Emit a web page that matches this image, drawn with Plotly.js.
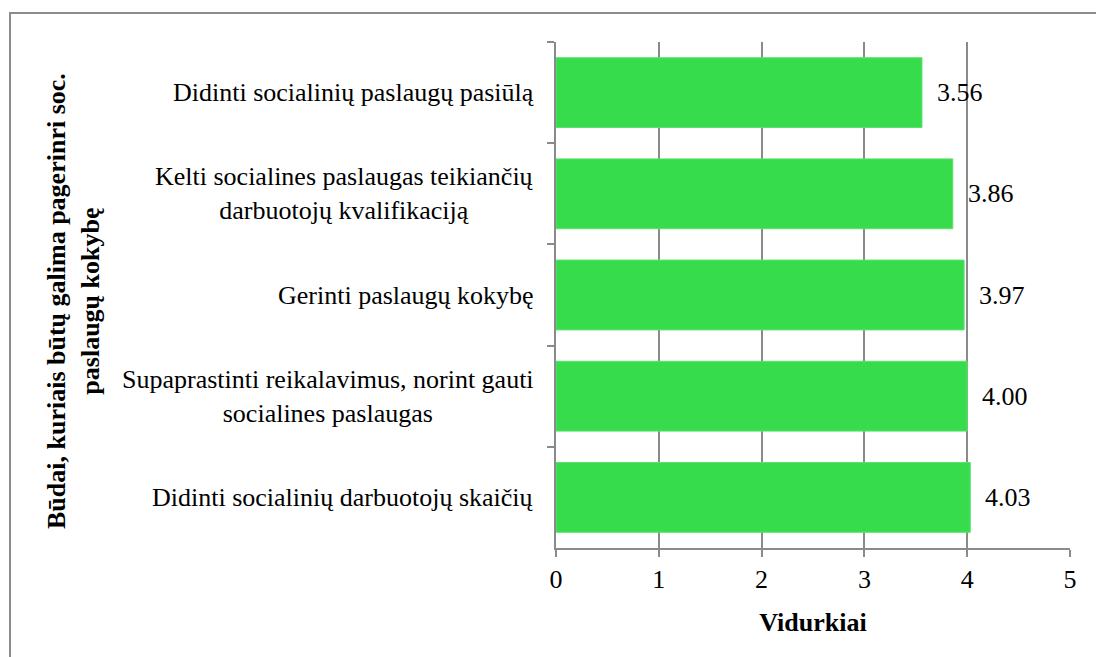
<!DOCTYPE html>
<html>
<head>
<meta charset="utf-8">
<script src="https://cdn.plot.ly/plotly-3.0.1.min.js"></script>
<style>
  html, body { margin: 0; padding: 0; background: #fff; }
  #frame { position: absolute; left: 9px; top: 12px; width: 1087px; height: 645px;
           border-left: 2px solid #8c8c8c; border-top: 2px solid #8c8c8c; box-sizing: border-box; pointer-events: none; }
</style>
</head>
<body>
<div id="chart"></div>
<div id="frame"></div>
<script>
// Data (top to bottom as shown)
const categories = [
  "Didinti socialinių paslaugų pasiūlą",
  "Kelti socialines paslaugas teikiančių<br>darbuotojų kvalifikaciją",
  "Gerinti paslaugų kokybę",
  "Supaprastinti reikalavimus, norint gauti<br>socialines paslaugas",
  "Didinti socialinių darbuotojų skaičių"
];
const values = [3.56, 3.86, 3.97, 4.00, 4.03];
const valueLabels = ["3.56", "3.86", "3.97", "4.00", "4.03"];
const xTickVals = [0, 1, 2, 3, 4, 5];
const xTitle = "Vidurkiai";
const yTitle = "Būdai, kuriais būtų galima pagerinri soc.<br>paslaugų kokybę";

const FONT = "Times New Roman";
const GRID = "#8a8a8a";
const txtFont = () => ({ family: FONT, size: 26, color: "#000" });

const trace = {
  type: "bar",
  orientation: "h",
  y: categories,
  x: values,
  marker: { color: "#36dc4b", line: { color: "#5fe070", width: 1 } },
  hoverinfo: "none"
};

const annotations = [];
categories.forEach((c, i) => {
  annotations.push({
    xref: "paper", yref: "y", x: 0, y: c,
    xanchor: "right", yanchor: "middle", align: "center",
    xshift: -20, showarrow: false,
    text: c, font: txtFont()
  });
  annotations.push({
    xref: "x", yref: "y", x: values[i], y: c,
    xanchor: "left", yanchor: "middle",
    xshift: 13, showarrow: false,
    text: valueLabels[i], font: txtFont()
  });
});
annotations.push({
  xref: "paper", yref: "paper", x: 0, y: 0.5,
  xanchor: "center", yanchor: "middle", align: "center",
  xshift: -483, yshift: -6, textangle: -90, showarrow: false,
  text: "<b>" + yTitle + "</b>",
  font: txtFont()
});

const layout = {
  width: 1096, height: 657,
  margin: { l: 556, r: 26, t: 42, b: 109 },
  paper_bgcolor: "#fff",
  plot_bgcolor: "#fff",
  showlegend: false,
  bargap: 0.31,
  xaxis: {
    range: [0, 5],
    tickvals: xTickVals,
    ticktext: xTickVals.map(String),
    showgrid: true, gridcolor: GRID, gridwidth: 1.5,
    zeroline: false,
    showline: true, linecolor: GRID, linewidth: 1.5,
    ticks: "outside", ticklen: 7, tickcolor: GRID, tickwidth: 1.5,
    tickfont: txtFont(),
    title: { text: "<b>" + xTitle + "</b>", font: txtFont(), standoff: 20 },
    fixedrange: true
  },
  yaxis: {
    type: "category",
    range: [4.5, -0.5],
    showticklabels: false,
    tickson: "boundaries",
    ticks: "outside", ticklen: 7, tickcolor: GRID, tickwidth: 1.5,
    showgrid: false, zeroline: false,
    showline: true, linecolor: GRID, linewidth: 1.5,
    fixedrange: true
  },
  annotations: annotations
};

Plotly.newPlot("chart", [trace], layout, { displayModeBar: false });
</script>
</body>
</html>
